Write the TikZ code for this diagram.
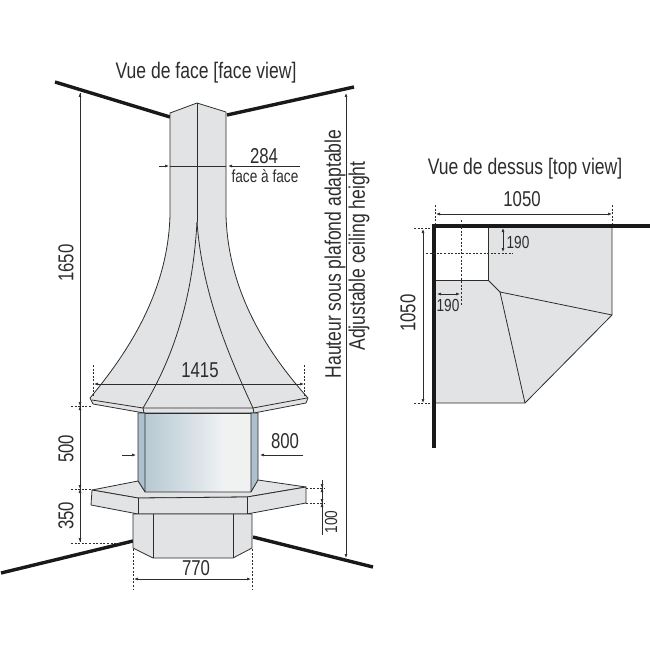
\documentclass[tikz,border=0pt]{standalone}
\usepackage{fontspec}
\setmainfont[FakeStretch=0.78]{Liberation Sans}
\usetikzlibrary{arrows.meta}
\definecolor{ink}{RGB}{45,45,45}
\definecolor{fillgrey}{RGB}{226,227,229}
\definecolor{bandblue}{RGB}{172,192,205}
\pgfdeclarehorizontalshading{chamber}{100bp}{
  rgb(0bp)=(0.70,0.77,0.82);
  rgb(25bp)=(0.72,0.79,0.83);
  rgb(50bp)=(0.86,0.89,0.91);
  rgb(62bp)=(0.94,0.95,0.95);
  rgb(100bp)=(0.94,0.94,0.95)}
\tikzset{
  x=1pt,y=-1pt,
  wall/.style={line width=3.4pt,color=black!90,line cap=butt},
  body/.style={draw=ink,fill=fillgrey,line width=0.8pt,line join=round},
  edge/.style={draw=ink,line width=0.8pt},
  dimline/.style={draw=ink,line width=0.6pt},
  dim/.style={draw=ink,line width=0.6pt,{Latex[length=4pt,width=3pt]}-{Latex[length=4pt,width=3pt]}},
  dimend/.style={draw=ink,line width=0.6pt,-{Latex[length=4pt,width=3pt]}},
  dots/.style={draw=ink,line width=0.6pt,dash pattern=on 2pt off 1.6pt},
  lab/.style={text=ink,inner sep=0pt,font=\fontsize{21.5}{22}\selectfont},
  small/.style={text=ink,inner sep=0pt,font=\fontsize{17.5}{18}\selectfont},
  title/.style={text=ink,inner sep=0pt,font=\fontsize{22.5}{23}\selectfont},
}
\begin{document}
\begin{tikzpicture}
\useasboundingbox (0,0) rectangle (650,650);
% walls
\draw[wall] (55,82) -- (170,117);
\draw[wall] (354,87) -- (227,115);
\draw[wall] (1,573) -- (133,541);
\draw[wall] (253,537) -- (373,567);
% hood
\path[body] (170,113) -- (197,103) -- (226,112)
  .. controls (226,150) and (226,175) .. (226,215)
  .. controls (228,290) and (265,350) .. (308,398)
  -- (306,403) -- (254,413) -- (144,413) -- (93,404) -- (90,398)
  .. controls (130,350) and (168,290) .. (170,215)
  -- cycle;
\draw[edge] (197,103) -- (197,222);
\draw[edge] (197,222) .. controls (193,290) and (178,350) .. (143,408);
\draw[edge] (197,222) .. controls (202,290) and (226,350) .. (253,408);
\draw[edge] (92,400) -- (143,408) -- (253,408) -- (307,398);
\draw[edge] (143,408) -- (144,413);
\draw[edge] (253,408) -- (254,413);
% fire chamber
\shade[shading=chamber] (145,413) rectangle (251,492);
\path[draw=ink,line width=0.7pt,fill=bandblue] (138,413) -- (145,413) -- (145,492) -- (138,481) -- cycle;
\path[draw=ink,line width=0.7pt,fill=bandblue] (258,413) -- (251,413) -- (251,492) -- (258,481) -- cycle;
\draw[edge,line width=1pt] (145,413) -- (251,413);
\draw[edge,line width=1pt] (145,492) -- (251,492);
% table
\path[body] (92,490) -- (138,481) -- (145,492) -- (251,492) -- (258,480) -- (306,487) -- (247,497) -- (138,498) -- cycle;
\path[body] (92,490) -- (138,498) -- (247,497) -- (306,487) -- (306,503) -- (247,514) -- (138,514) -- (91,505) -- cycle;
\draw[edge] (138,498) -- (138,514);
\draw[edge] (247,497) -- (247,514);
% base
\path[body] (133,514) -- (252,514) -- (252,548) -- (233,558) -- (153,558) -- (133,548) -- cycle;
\draw[edge] (153,514) -- (153,558);
\draw[edge] (233,514) -- (233,558);
% face view dimensions
\draw[dimline] (80,93) -- (80,542);
\draw[dimend] (80,100) -- (80,93);
\draw[dimend] (80,399) -- (80,406);
\draw[dimend] (80,413) -- (80,406);
\draw[dimend] (80,482) -- (80,489);
\draw[dimend] (80,496) -- (80,489);
\draw[dimend] (80,535) -- (80,542);
\draw[dots] (71,406) -- (92,406);
\draw[dots] (71,489) -- (92,489);
\draw[dots] (71,543) -- (120,543);
\draw[dim] (346,93) -- (346,558);
\draw[dimend] (159,166) -- (169,166);
\draw[dimend,line width=0.9pt] (300,166) -- (228,166);
\draw[edge] (170,166) -- (226,166);
\draw[dim] (94,384) -- (304,384);
\draw[dots] (93,365) -- (93,397);
\draw[dots] (304,365) -- (304,397);
\draw[dimend] (122,455) -- (136,455);
\draw[dimend] (303,455) -- (260,455);
\draw[dim] (134,579) -- (251,579);
\draw[dots] (133,549) -- (133,590);
\draw[dots] (252,549) -- (252,590);
\draw[dots] (306,488) -- (325,488);
\draw[dots] (306,503) -- (325,503);
\draw[dimline] (322,480) -- (322,535);
\draw[dimend] (322,481) -- (322,488);
\draw[dimend] (322,495) -- (322,488);
\draw[dimend] (322,496) -- (322,503);
\draw[dimend] (322,510) -- (322,503);
\node[title] (facetitle) at (206,73) {Vue de face [face view]};
\node[lab] (n284) at (264,156) {284};
\node[small] (nface) at (265,176) {face à face};
\node[lab,rotate=90] (n1650) at (66,263) {1650};
\node[lab,rotate=90] (n500) at (66,449) {500};
\node[lab,rotate=90] (n350) at (66,516) {350};
\node[lab] (n1415) at (200,370) {1415};
\node[lab] (n800) at (285,441) {800};
\node[lab] (n770) at (196,568) {770};
\node[small,rotate=90] (n100) at (331,522) {100};
\node[title,rotate=90] (hauteur) at (335,254) {Hauteur sous plafond adaptable};
\node[title,rotate=90] (adjust) at (359,256) {Adjustable ceiling height};
% top view
\path[body,draw=none] (436,280) -- (488,280) -- (488,228) -- (612,228) -- (612,315) -- (525,403) -- (436,403) -- cycle;
\draw[edge] (436,280) -- (488,280) -- (488,228);
\draw[edge] (612,228) -- (612,315) -- (525,403) -- (436,403);
\draw[edge] (488,280) -- (500,292) -- (612,315);
\draw[edge] (500,292) -- (525,403);
\draw[wall] (432.3,226) -- (650,226);
\draw[wall] (434,224.3) -- (434,448);
\draw[dots] (461,220) -- (461,306);
\draw[dots] (426,253) -- (513,253);
\draw[dim] (436,214) -- (612,214);
\draw[dots] (435,205) -- (435,224);
\draw[dots] (612,205) -- (612,224);
\draw[dim] (423,229) -- (423,403);
\draw[dots] (414,228) -- (430,228);
\draw[dots] (414,403) -- (430,403);
\draw[dim] (503,228) -- (503,252);
\draw[dim] (437,294) -- (460,294);
\node[title] (toptitle) at (525,169) {Vue de dessus [top view]};
\node[lab] (t1050) at (522,199) {1050};
\node[lab,rotate=90] (l1050) at (408,313) {1050};
\node[small] (r190) at (518,242) {190};
\node[small] (b190) at (448,305) {190};
\end{tikzpicture}
\end{document}
